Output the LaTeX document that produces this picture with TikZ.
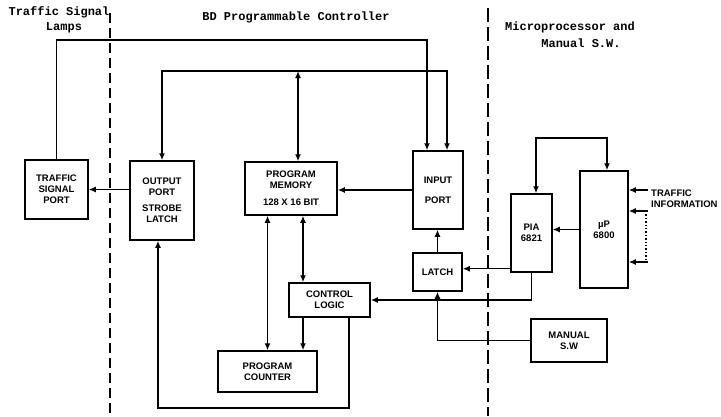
\documentclass[tikz,border=0pt]{standalone}
\usepackage{fontspec}
\setmainfont{Liberation Sans}
\newfontfamily\titlefont{Liberation Mono}
\usetikzlibrary{arrows.meta,calc}
\tikzset{
	blk/.style={draw, line width=1.5pt, align=center, inner sep=1pt, font=\bfseries\fontsize{9.5}{11}\selectfont},
	lbl/.style={align=left, inner sep=0pt, font=\bfseries\fontsize{9.5}{11}\selectfont},
	title/.style={inner sep=0pt, font=\titlefont\bfseries\fontsize{12}{14}\selectfont},
	wire/.style={line width=1.4pt},
	flow/.style={-{Latex[length=7pt,width=6pt]}, line width=1.4pt},
	both/.style={{Latex[length=7pt,width=6pt]}-{Latex[length=7pt,width=6pt]}, line width=1.4pt},
	divider/.style={line width=1.4pt, dash pattern=on 10pt off 5pt}
}
\begin{document}
\begin{tikzpicture}[x=1pt, y=-1pt]
	\useasboundingbox (0,0) rectangle (721,416);
	\draw[divider] (110,13) -- (110,416);
	\draw[divider, dash pattern=on 14pt off 5pt] (488,8) -- (488,416);
	\node[title] (ttsl) at (59,12) {Traffic Signal};
	\node[title] (ttlp) at (64,28) {Lamps};
	\node[title] (ttbd) at (296,17) {BD Programmable Controller};
	\node[title] (ttmp) at (570,27) {Microprocessor and};
	\node[title] (ttms) at (581,43) {Manual S.W.};
	\node[blk, minimum width=63pt, minimum height=59pt] (tsp) at (56.5,189.5) {TRAFFIC\\SIGNAL\\PORT};
	\node[blk, minimum width=64pt, minimum height=79pt] (outp) at (162,200.5) {OUTPUT\\PORT\\[5pt]STROBE\\LATCH};
	\node[blk, minimum width=92pt, minimum height=53pt] (pmem) at (291,188.5) {PROGRAM\\MEMORY\\[6pt]128 X 16 BIT};
	\node[blk, minimum width=50pt, minimum height=78pt] (inp) at (438,190) {INPUT\\[9pt]PORT};
	\node[blk, minimum width=49pt, minimum height=38pt] (latch) at (437.5,272) {LATCH};
	\node[blk, minimum width=81pt, minimum height=34pt] (ctrl) at (329.5,300) {CONTROL\\LOGIC};
	\node[blk, minimum width=99pt, minimum height=41pt] (pc) at (267.5,371.5) {PROGRAM\\COUNTER};
	\node[blk, minimum width=41pt, minimum height=78pt] (pia) at (531.5,233) {PIA\\6821};
	\node[blk, minimum width=48pt, minimum height=117pt] (up) at (604,229.5) {µP\\6800};
	\node[blk, minimum width=76pt, minimum height=43pt] (msw) at (569,340.5) {MANUAL\\S.W};
	\node[lbl, anchor=west] (tinfo) at (651,198.5) {TRAFFIC\\INFORMATION};
	\coordinate (obus) at (0,40);
	\coordinate (ibus) at (0,71);
	\coordinate (pbus) at (0,138);
	\coordinate (lbus) at (158,408);
	\coordinate (inL) at ([xshift=-11pt]inp.north);
	\coordinate (inR) at ([xshift=9pt]inp.north);
	\coordinate (p2l) at ([yshift=4pt]pia.south west);
	\draw[flow] (tsp.north) |- (obus -| inL) -- (inL);
	\draw[both] (outp.north) |- (ibus -| inR) -- (inR);
	\draw[both] ([xshift=7pt]pmem.north |- ibus) -- ([xshift=7pt]pmem.north);
	\draw[flow] (outp.west |- tsp.east) -- (tsp.east);
	\draw[flow] (inp.west) -- (inp.west -| pmem.east);
	\draw[flow] (latch.north) -- (latch.north |- inp.south);
	\draw[flow] (p2l) -- (p2l -| latch.east);
	\draw[flow] (pia.south) |- (ctrl.east);
	\draw[flow] (msw.west) -| (latch.south);
	\draw[flow] (up.west) -- (up.west -| pia.east);
	\draw[both] ([xshift=4.5pt]pia.north) -- ([xshift=4.5pt]pia.north |- pbus) -| ([xshift=3pt]up.north);
	\foreach \i/\y in {1/190,2/211,3/262} {
		\coordinate (ti\i) at (648,\y);
		\draw[flow] (ti\i) -- (ti\i -| up.east);
	}
	\draw[wire, dotted] ([xshift=-2pt]ti2) -- ([xshift=-2pt]ti3);
	\draw[both] (pc.north |- pmem.south) -- (pc.north);
	\draw[both] ([xshift=-26.5pt]ctrl.north |- pmem.south) -- ([xshift=-26.5pt]ctrl.north);
	\draw[flow] ([xshift=-26.5pt]ctrl.south) -- ([xshift=-26.5pt]ctrl.south |- pc.north);
	\draw[flow] ([xshift=19.5pt]ctrl.south) |- (lbus) -- (lbus |- outp.south);
\end{tikzpicture}
\end{document}
